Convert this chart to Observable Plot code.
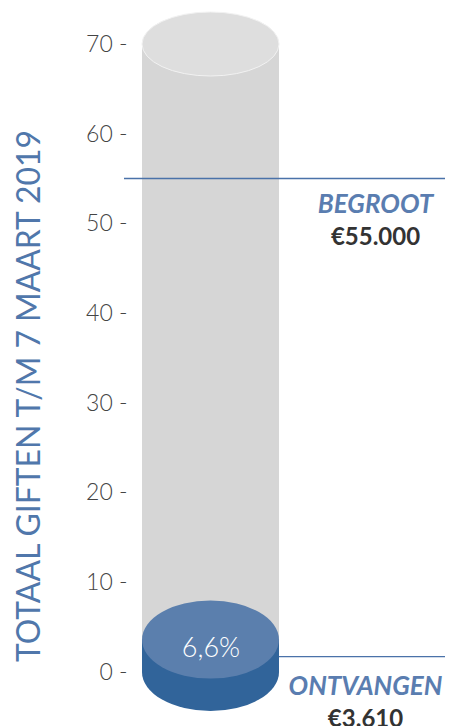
<!DOCTYPE html>
<html><head><meta charset="utf-8">
<script src="https://cdn.jsdelivr.net/npm/d3@7"></script>
<script src="https://cdn.jsdelivr.net/npm/@observablehq/plot@0.6"></script>
<style>
html,body{margin:0;padding:0;background:#fff;}
#chart svg g[aria-label="y-axis tick label"] text, #chart svg g[aria-label="y-axis"] text{font-weight:300;}
</style>
</head><body><div id="chart"></div>
<script>
// ---- data (x €1.000) ----
const categorie = ["Totaal"];
const maximum = [70];
const begroot = [55];
const ontvangen = [3.61];
const percentage = ["6,6%"];
const yTicks = [0, 10, 20, 30, 40, 50, 60, 70];
const titel = "TOTAAL GIFTEN T/M 7 MAART 2019";
const begrootLabel = ["BEGROOT"];
const begrootBedrag = ["€55.000"];
const ontvangenLabel = ["ONTVANGEN"];
const ontvangenBedrag = ["€3.610"];

const blue = "#4a72a9";
const font = "Lato, 'Open Sans', sans-serif";

// cylinder drawn from the y scale
const cylinder = (lo, hi, ry, sideFill, topFill, topStroke) => (index, scales, values, dims) => {
  const x0 = dims.marginLeft, x1 = dims.width - dims.marginRight;
  const cx = (x0 + x1) / 2, rx = (x1 - x0) / 2;
  const yt = scales.y(hi), yb = scales.y(lo);
  const g = d3.create("svg:g");
  g.append("path")
    .attr("d", `M${x0},${yt}L${x0},${yb}A${rx},${ry} 0 0 0 ${x1},${yb}L${x1},${yt}Z`)
    .attr("fill", sideFill);
  g.append("ellipse").attr("cx", cx).attr("cy", yt).attr("rx", rx).attr("ry", ry)
    .attr("fill", topFill).attr("stroke", topStroke || "none").attr("stroke-width", 1);
  return g.node();
};

// horizontal reference lines, extending beyond the frame
const hline = (value, fromLeft, offsetY) => (index, scales, values, dims) => {
  const y = scales.y(value) + offsetY;
  const xa = fromLeft ? dims.marginLeft - 18 : dims.width - dims.marginRight;
  const xb = dims.width - 4;
  return d3.create("svg:line").attr("x1", xa).attr("x2", xb).attr("y1", y).attr("y2", y)
    .attr("stroke", blue).attr("stroke-width", 1.4).node();
};

// rotated title at the left
const title = (index, scales, values, dims) => {
  const yc = (scales.y(0) + scales.y(maximum[0])) / 2 + 38;
  return d3.create("svg:text")
    .attr("transform", `translate(40,${yc}) rotate(-90)`)
    .attr("text-anchor", "middle")
    .attr("fill", "#5077ab")
    .attr("font-family", font)
    .attr("font-size", 32)
    .attr("font-weight", 400)
    .attr("textLength", 532)
    .attr("lengthAdjust", "spacingAndGlyphs")
    .text(titel).node();
};

const data = categorie.map((c, i) => ({categorie: c, max: maximum[i]}));

const chart = Plot.plot({
  width: 449,
  height: 726,
  marginTop: 44,
  marginBottom: 54,
  marginLeft: 142,
  marginRight: 170,
  style: {fontFamily: font, fontSize: "23px", color: "#444", background: "#fff", overflow: "visible"},
  x: {domain: categorie, padding: 0, axis: null},
  y: {domain: [0, maximum[0]], ticks: yTicks, tickSize: 0, tickPadding: 15, tickFormat: d => `${d} -`, label: null},
  marks: [
    Plot.barY(data, {x: "categorie", y: "max", fill: "#d6d6d6", inset: 0}),
    cylinder(0, maximum[0], 32, "#d6d6d6", "#dedede", "#f2f2f2"),
    hline(begroot[0], true, 0),
    hline(ontvangen[0], false, 17),
    cylinder(0, ontvangen[0], 39, "#31649a", "#5b7fad", null),
    Plot.text(percentage, {x: () => categorie[0], y: () => ontvangen[0], text: d => d, dy: 8, fill: "#fff", fontSize: 27, fontWeight: 300}),
    title,
    Plot.text(begrootLabel, {y: () => begroot[0], text: d => d, frameAnchor: "right", textAnchor: "middle", dx: 96, dy: 26, fill: "#5a7db0", fontSize: 26, fontWeight: 700, fontStyle: "italic"}),
    Plot.text(begrootBedrag, {y: () => begroot[0], text: d => d, frameAnchor: "right", textAnchor: "middle", dx: 96, dy: 58, fill: "#333", fontSize: 24, fontWeight: 700}),
    Plot.text(ontvangenLabel, {y: () => ontvangen[0], text: d => d, frameAnchor: "right", textAnchor: "middle", dx: 86, dy: 47, fill: "#5a7db0", fontSize: 26, fontWeight: 700, fontStyle: "italic"}),
    Plot.text(ontvangenBedrag, {y: () => ontvangen[0], text: d => d, frameAnchor: "right", textAnchor: "middle", dx: 86, dy: 79, fill: "#333", fontSize: 24, fontWeight: 700})
  ]
});
document.getElementById("chart").appendChild(chart);
</script>
</body></html>
